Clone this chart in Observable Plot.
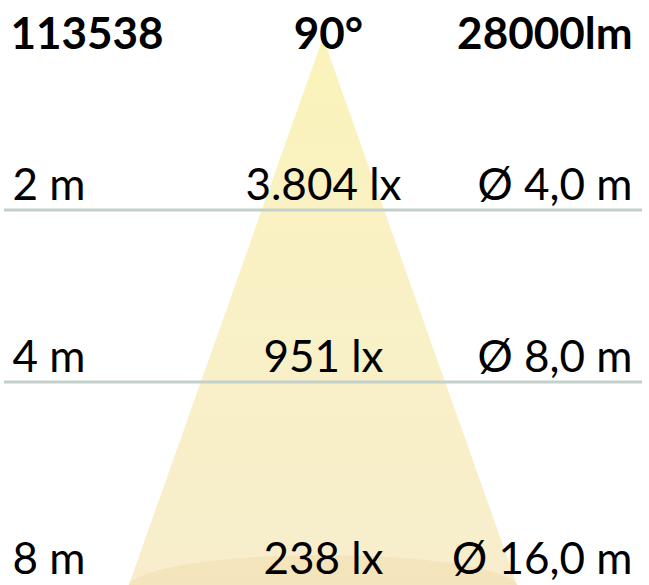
<!DOCTYPE html>
<html><head><meta charset="utf-8">
<script src="https://cdn.jsdelivr.net/npm/d3@7"></script>
<script src="https://cdn.jsdelivr.net/npm/@observablehq/plot@0.6"></script>
<style>html,body{margin:0;padding:0;background:#fff;overflow:hidden}</style>
</head><body><div id="chart"></div>
<script>
// ---- data ----
const headerLabels = ["113538", "90°", "28000lm"];
const beamAngle = 90;                       // degrees
const distances = [2, 4, 8];                // m
const distanceLabels = ["2 m", "4 m", "8 m"];
const luxLabels = ["3.804 lx", "951 lx", "238 lx"];
const diameterLabels = ["Ø 4,0 m", "Ø 8,0 m", "Ø 16,0 m"];
const markedDistances = [2, 4];             // m, reference lines

// ---- scales (schematic: metres of depth vs metres of half-width) ----
const W = 649, H = 585;
const yDomain = [-0.436, 6.366];
const xDomain = [-10.59, 10.69];
const visibleDepth = yDomain[1];
const lineHalfSpan = 10.46;
const halfWidth = d => d * Math.tan(beamAngle / 2 * Math.PI / 180);

const rows = distances.map((d, i) => ({
  d, y: Math.min(d, visibleDepth), clamped: d > visibleDepth,
  dist: distanceLabels[i], lux: luxLabels[i], diam: diameterLabels[i]
}));

const cone = [{d: 0}, {d: visibleDepth + 0.3}];

// cone base disc at the bottom edge
const baseDepth = 6.40, baseRy = 0.38, baseRx = halfWidth(6.40);
const base = d3.range(0, 101).map(k => {
  const a = Math.PI * k / 100;
  return {x: baseRx * Math.cos(a), y1: baseDepth - baseRy * Math.sin(a), y2: baseDepth + baseRy * Math.sin(a)};
});

const font = {fontFamily: "Lato, 'Open Sans', sans-serif", fill: "black"};

const lineRows = rows.filter(r => !r.clamped), edgeRows = rows.filter(r => r.clamped);
const rowText = (data, dy) => [
  Plot.text(data, {text: "dist", x: xDomain[0], y: "y", dx: 12, dy, lineAnchor: "bottom", textAnchor: "start", fontSize: 44, ...font}),
  Plot.text(data, {text: "lux", x: 0, y: "y", dy, lineAnchor: "bottom", textAnchor: "middle", fontSize: 44, ...font}),
  Plot.text(data, {text: "diam", x: xDomain[1], y: "y", dx: -17, dy, lineAnchor: "bottom", textAnchor: "end", fontSize: 44, ...font})
];

const svg = Plot.plot({
  width: W, height: H, margin: 0,
  x: {domain: xDomain, axis: null},
  y: {domain: yDomain, range: [0, H], axis: null},
  style: {background: "white", fontFamily: "Lato, sans-serif"},
  marks: [
    Plot.areaX(cone, {y: "d", x1: d => -halfWidth(d.d), x2: d => halfWidth(d.d), fill: "url(#coneGrad)"}),
    Plot.areaY(base, {x: "x", y1: "y1", y2: "y2", fill: "#eed9a8", fillOpacity: 0.45}),
    Plot.ruleY(markedDistances, {x1: -lineHalfSpan, x2: lineHalfSpan, stroke: "#c4d0cc", strokeWidth: 3}),
    Plot.text([headerLabels[0]], {text: d => d, x: xDomain[0], y: yDomain[0], dx: 10, dy: 48, lineAnchor: "bottom", textAnchor: "start", fontSize: 44, fontWeight: "bold", ...font}),
    Plot.text([headerLabels[1]], {text: d => d, x: 0, y: yDomain[0], dx: 5, dy: 48, lineAnchor: "bottom", textAnchor: "middle", fontSize: 44, fontWeight: "bold", ...font}),
    Plot.text([headerLabels[2]], {text: d => d, x: xDomain[1], y: yDomain[0], dx: -17, dy: 48, lineAnchor: "bottom", textAnchor: "end", fontSize: 44, fontWeight: "bold", ...font}),
    ...rowText(lineRows, -10),
    ...rowText(edgeRows, -12)
  ]
});
const defs = d3.select(svg).insert("defs", ":first-child");
const g = defs.append("linearGradient").attr("id", "coneGrad").attr("x1", 0).attr("y1", 0).attr("x2", 0).attr("y2", 1);
[["0%", "#faf3b9"], ["45%", "#f9f1c6"], ["100%", "#f7edcd"]].forEach(([o, c]) => g.append("stop").attr("offset", o).attr("stop-color", c));
document.getElementById("chart").appendChild(svg);
</script>
</body></html>
